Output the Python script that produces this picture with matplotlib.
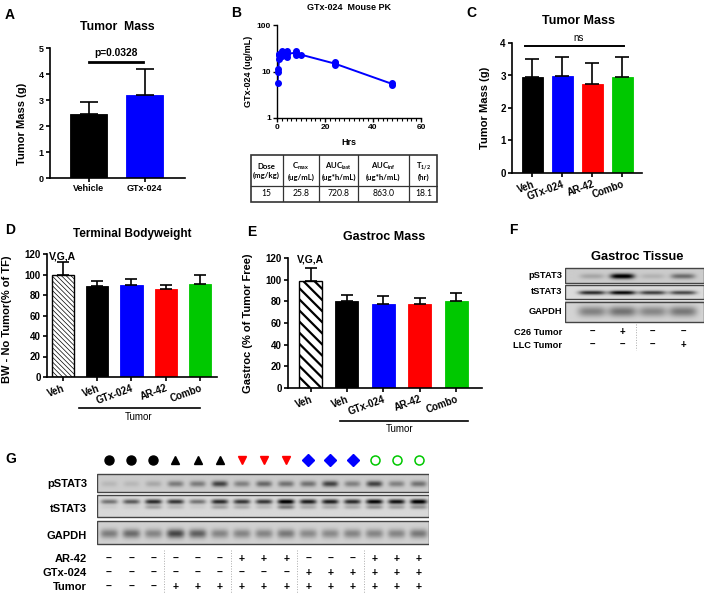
import numpy as np
import matplotlib
matplotlib.use("Agg")
import matplotlib.pyplot as plt
from matplotlib.patches import Rectangle
from matplotlib.ticker import MultipleLocator, NullLocator, FixedLocator

plt.rcParams["font.family"] = ["Liberation Sans", "DejaVu Sans"]
plt.rcParams["font.weight"] = "bold"
plt.rcParams["axes.labelweight"] = "bold"
plt.rcParams["mathtext.default"] = "regular"

# ---------------- data ----------------
GREEN = "#00c800"
BLUE = "#0000ff"
RED = "#ff0000"

a_labels = ["Vehicle", "GTx-024"]
a_means = [2.45, 3.2]
a_sd = [0.47, 0.98]
a_colors = ["black", BLUE]

pk_times = [0.25, 0.5, 1, 2, 4, 8, 10, 24, 48]
pk_values = [[5.6], [11.5, 9.8], [19, 23, 24], [22, 26, 28], [21, 24, 27],
             [23, 25, 28], [23], [13.5, 15, 16], [5.2, 5.6]]

table_head = ["Dose\n(mg/kg)", "C$_{max}$\n(ug/mL)", "AUC$_{last}$\n(ug*h/mL)",
              "AUC$_{inf}$\n(ug*h/mL)", "T$_{1/2}$\n(hr)"]
table_vals = ["15", "25.8", "720.8", "863.0", "18.1"]

c_labels = ["Veh", "GTx-024", "AR-42", "Combo"]
c_means = [2.95, 2.97, 2.75, 2.95]
c_sd = [0.57, 0.6, 0.63, 0.63]
c_colors = ["black", BLUE, RED, GREEN]

d_labels = ["Veh", "Veh", "GTx-024", "AR-42", "Combo"]
d_means = [100, 89, 90, 86, 91]
d_sd = [12, 5, 6, 4, 9]

e_labels = ["Veh", "Veh", "GTx-024", "AR-42", "Combo"]
e_means = [99, 80, 78, 78, 80]
e_sd = [12, 5.5, 7, 5.5, 7.5]
de_colors = ["white", "black", BLUE, RED, GREEN]

f_pstat3 = [0.15, 0.85, 0.1, 0.38]
f_tstat3 = [0.7, 0.85, 0.62, 0.58]
f_gapdh = [0.32, 0.38, 0.3, 0.36]
f_c26 = ["–", "+", "–", "–"]
f_llc = ["–", "–", "–", "+"]

g_pstat3 = [0.08, 0.08, 0.14, 0.32, 0.32, 0.55, 0.3, 0.4, 0.36,
            0.36, 0.55, 0.3, 0.55, 0.3, 0.36]
g_tstat3 = [0.4, 0.5, 0.7, 0.65, 0.4, 0.7, 0.65, 0.65, 0.9,
            0.75, 0.75, 0.7, 0.85, 0.8, 0.9]
g_tstat3_low = [0.05, 0.05, 0.22, 0.12, 0.05, 0.22, 0.18, 0.12, 0.38,
                0.18, 0.18, 0.18, 0.28, 0.22, 0.28]
g_gapdh = [0.33, 0.4, 0.3, 0.55, 0.45, 0.3, 0.3, 0.3, 0.35,
           0.28, 0.28, 0.3, 0.3, 0.3, 0.35]
g_markers = ["o", "^", "v", "D", "o"]
g_mcolors = ["black", "black", RED, BLUE, GREEN]
g_filled = [True, True, True, True, False]
g_ar42 = ["–"] * 6 + ["+"] * 3 + ["–"] * 3 + ["+"] * 3
g_gtx = ["–"] * 9 + ["+"] * 6
g_tumor = ["–"] * 3 + ["+"] * 12

W, H = 709, 598


def px_box(x0, y0, x1, y1):
    return [x0 / W, 1 - y1 / H, (x1 - x0) / W, (y1 - y0) / H]


def ftext(fig, x, y, s, **kw):
    kw.setdefault("ha", "center")
    kw.setdefault("va", "center")
    fig.text(x / W, 1 - y / H, s, **kw)


def fline(fig, x0, x1, y, lw=1.2):
    fig.add_artist(plt.Line2D([x0 / W, x1 / W], [1 - y / H, 1 - y / H], lw=lw, color="black"))


def style_axes(ax, lw=1.2, fs=6.5):
    for s in ["top", "right"]:
        ax.spines[s].set_visible(False)
    for s in ["left", "bottom"]:
        ax.spines[s].set_linewidth(lw)
    ax.tick_params(width=lw, length=3, direction="out", pad=1.5, labelsize=fs)


def bar_chart(ax, means, sd, colors, width, capsize, hatch=None, hatch_lw=1.0):
    x = np.arange(len(means))
    bars = ax.bar(x, means, width, color=colors, edgecolor=colors, linewidth=0.6, zorder=2)
    if hatch is not None:
        b = bars[0]
        b.set_hatch(hatch)
        b.set_edgecolor("black")
        b.set_linewidth(1.0)
        if hasattr(b, "set_hatch_linewidth"):
            b.set_hatch_linewidth(hatch_lw)
    ax.errorbar(x, means, yerr=[np.zeros(len(means)), sd], fmt="none", ecolor="black",
                elinewidth=1.2, capsize=capsize, capthick=1.2, zorder=3)
    return x


def blot(ax, x_lo, x_hi, y_top, y_bot, bands, lane_w, bg):
    nx, ny = 400, 40
    xs = np.linspace(x_lo, x_hi, nx)
    ys = np.linspace(0, 1, ny)
    img = np.full((ny, nx), bg)
    for inten, yc, sig in bands:
        for i, a in enumerate(inten):
            gx = np.exp(-((xs - i) / lane_w) ** 4)
            gy = np.exp(-((ys - yc) / sig) ** 2)
            img -= a * np.outer(gy, gx)
    ax.imshow(np.clip(img, 0, 1), cmap="gray", vmin=0, vmax=1, aspect="auto",
              extent=(x_lo, x_hi, y_bot, y_top), interpolation="bilinear", zorder=1)
    ax.add_patch(Rectangle((x_lo, y_top), x_hi - x_lo, y_bot - y_top, fill=False,
                           edgecolor="#444444", lw=1.0, zorder=2))


fig = plt.figure(figsize=(7.09, 5.98), dpi=100)

# panel letters
for letter, (lx, ly) in zip("ABCDEFG", [(5, 15), (231, 13), (466, 13), (5, 230),
                                          (247, 232), (509, 230), (5, 459)]):
    ftext(fig, lx, ly, letter, ha="left", fontsize=10)

# ---------------- A ----------------
ax = fig.add_axes(px_box(50, 48, 185, 178))
style_axes(ax)
x = bar_chart(ax, a_means, a_sd, a_colors, 0.66, 6.5)
ax.set_xlim(-0.69, 1.72)
ax.set_ylim(0, 5)
ax.set_xticks(x)
ax.set_xticklabels(a_labels)
ax.set_yticks(range(6))
ax.set_ylabel("Tumor Mass (g)", fontsize=8)
ax.yaxis.set_label_coords(-0.17, 0.42)
ax.plot([0, 0.97], [4.46, 4.46], color="black", lw=2, clip_on=False)
ax.text(0.49, 4.62, "p=0.0328", ha="center", va="bottom", fontsize=7.4)
ftext(fig, 117, 27, "Tumor  Mass", fontsize=8.8)

# ---------------- B ----------------
ax = fig.add_axes(px_box(277, 25, 421, 118))
style_axes(ax, lw=1.0, fs=6)
ax.set_yscale("log")
for t, vals in zip(pk_times, pk_values):
    ax.plot([t] * len(vals), vals, "o", color=BLUE, ms=4, clip_on=False, zorder=3)
ax.plot(pk_times, [np.mean(v) for v in pk_values], color=BLUE, lw=1.4, zorder=2)
ax.set_xlim(0, 60)
ax.set_ylim(1, 100)
ax.set_xticks([0, 20, 40, 60])
ax.xaxis.set_minor_locator(MultipleLocator(2))
ax.tick_params(which="minor", length=2, width=0.8)
ax.yaxis.set_major_locator(FixedLocator([1, 10, 100]))
ax.yaxis.set_minor_locator(NullLocator())
ax.set_yticklabels(["1", "10", "100"])
ax.set_ylabel("GTx-024 (ug/mL)", fontsize=6.5)
ax.yaxis.set_label_coords(-0.17, 0.5)
ftext(fig, 349, 142, "Hrs", fontsize=6.5)
ftext(fig, 349, 8, "GTx-024  Mouse PK", fontsize=6.5)

# table
tx = [250, 283, 319, 358, 409, 438]
ax = fig.add_axes(px_box(250, 155, 438, 202))
ax.set_xlim(250, 438)
ax.set_ylim(202, 155)
ax.axis("off")
ax.add_patch(Rectangle((250.5, 155.5), 187, 46, fill=False, edgecolor="#333333", lw=1.2, clip_on=False))
for xv in tx[1:-1]:
    ax.plot([xv, xv], [155.5, 201.5], color="#333333", lw=0.9)
ax.plot([250.5, 437.5], [186, 186], color="#333333", lw=0.9)
for i in range(5):
    cx = (tx[i] + tx[i + 1]) / 2
    ax.text(cx, 171, table_head[i], ha="center", va="center", fontsize=5.6,
            family=["Lato", "DejaVu Sans"], weight="bold", linespacing=1.2)
    ax.text(cx, 194, table_vals[i], ha="center", va="center", fontsize=6.2,
            family=["Lato", "DejaVu Sans"], weight="normal")

# ---------------- C ----------------
ax = fig.add_axes(px_box(512, 43, 642, 173))
style_axes(ax, fs=7)
x = bar_chart(ax, c_means, c_sd, c_colors, 0.67, 5)
ax.set_xlim(-0.683, 3.65)
ax.set_ylim(0, 4)
ax.set_xticks(x)
ax.set_xticklabels(c_labels, rotation=20, ha="right", rotation_mode="anchor")
ax.set_yticks(range(5))
ax.set_ylabel("Tumor Mass (g)", fontsize=8)
ax.yaxis.set_label_coords(-0.17, 0.5)
ax.plot([-0.25, 3.05], [3.9, 3.9], color="black", lw=1.4, clip_on=False)
ax.text(1.52, 4.0, "ns", ha="center", va="bottom", fontsize=7, weight="normal")
ftext(fig, 578, 21, "Tumor Mass", fontsize=9)

# ---------------- D ----------------
ax = fig.add_axes(px_box(47, 254, 217, 377))
style_axes(ax, fs=7)
x = bar_chart(ax, d_means, d_sd, de_colors, 0.65, 4.5, hatch="\\\\\\\\\\\\\\", hatch_lw=0.5)
ax.set_xlim(-0.467, 4.5)
ax.set_ylim(0, 120)
ax.set_xticks(x)
ax.set_xticklabels(d_labels, rotation=20, ha="right", rotation_mode="anchor")
ax.set_yticks(range(0, 121, 20))
ax.set_ylabel("BW - No Tumor(% of TF)", fontsize=8)
ax.yaxis.set_label_coords(-0.205, 0.47)
ax.text(0, 112.5, "V,G,A", ha="center", va="bottom", fontsize=7.5)
fline(fig, 79, 200, 408)
ftext(fig, 139, 417, "Tumor", fontsize=7, weight="normal")
ftext(fig, 132, 234, "Terminal Bodyweight", fontsize=8.5)

# ---------------- E ----------------
ax = fig.add_axes(px_box(288, 258, 482, 388))
style_axes(ax, fs=7)
x = bar_chart(ax, e_means, e_sd, de_colors, 0.63, 4.5, hatch="\\\\\\", hatch_lw=1.6)
ax.set_xlim(-0.62, 4.71)
ax.set_ylim(0, 120)
ax.set_xticks(x)
ax.set_xticklabels(e_labels, rotation=20, ha="right", rotation_mode="anchor")
ax.set_yticks(range(0, 121, 20))
ax.set_ylabel("Gastroc (% of Tumor Free)", fontsize=8)
ax.yaxis.set_label_coords(-0.18, 0.5)
ax.text(0, 114, "V,G,A", ha="center", va="bottom", fontsize=7.5)
fline(fig, 340, 468, 421)
ftext(fig, 400, 429, "Tumor", fontsize=7, weight="normal")
ftext(fig, 384, 237, "Gastroc Mass", fontsize=9)

# ---------------- F ----------------
ax = fig.add_axes(px_box(565, 262, 704, 352))
ax.axis("off")
xl, xr = -0.89, 3.69
blot(ax, xl, xr, 268, 283, [(f_pstat3, 0.55, 0.18)], 0.4, 0.80)
blot(ax, xl, xr, 285, 299, [(f_tstat3, 0.55, 0.15)], 0.44, 0.86)
blot(ax, xl, xr, 302, 322, [(f_gapdh, 0.5, 0.25)], 0.46, 0.83)
ax.set_xlim(xl, xr)
ax.set_ylim(352, 262)
for lab, yy in [("pSTAT3", 276), ("tSTAT3", 292), ("GAPDH", 312),
                ("C26 Tumor", 332), ("LLC Tumor", 345)]:
    ax.text(-0.99, yy, lab, ha="right", va="center", fontsize=6.7)
for i in range(4):
    ax.text(i, 332, f_c26[i], ha="center", va="center", fontsize=7)
    ax.text(i, 345, f_llc[i], ha="center", va="center", fontsize=7)
ax.plot([1.45, 1.45], [324, 350], color="#aaaaaa", lw=0.7, ls=":")
ftext(fig, 637, 257, "Gastroc Tissue", fontsize=9.3)

# ---------------- G ----------------
ax = fig.add_axes(px_box(97, 445, 429, 596))
ax.axis("off")
xl, xr = -0.54, 14.45
blot(ax, xl, xr, 474, 492, [(g_pstat3, 0.55, 0.17)], 0.36, 0.80)
blot(ax, xl, xr, 495, 517, [(g_tstat3, 0.3, 0.11), (g_tstat3_low, 0.55, 0.1)], 0.38, 0.85)
blot(ax, xl, xr, 521, 544, [(g_gapdh, 0.55, 0.2)], 0.4, 0.82)
ax.set_xlim(xl, xr)
ax.set_ylim(596, 445)
for k in range(5):
    lanes = [3 * k, 3 * k + 1, 3 * k + 2]
    mk = g_markers[k]
    ms = 6.5 if mk == "o" else (5.8 if mk == "D" else 6.3)
    if g_filled[k]:
        ax.plot(lanes, [460] * 3, mk, color=g_mcolors[k], ms=ms, ls="none", clip_on=False)
    else:
        ax.plot(lanes, [460] * 3, mk, mfc="none", mec=g_mcolors[k], mew=1.1, ms=ms,
                ls="none", clip_on=False)
for lab, yy in [("pSTAT3", 484), ("tSTAT3", 509), ("GAPDH", 536),
                ("AR-42", 559), ("GTx-024", 573), ("Tumor", 587)]:
    ax.text(-0.99, yy, lab, ha="right", va="center", fontsize=8)
for i in range(15):
    ax.text(i, 559, g_ar42[i], ha="center", va="center", fontsize=7.5)
    ax.text(i, 573, g_gtx[i], ha="center", va="center", fontsize=7.5)
    ax.text(i, 587, g_tumor[i], ha="center", va="center", fontsize=7.5)
for sx in [2.5, 5.5, 8.5, 11.5]:
    ax.plot([sx, sx], [550, 593], color="#aaaaaa", lw=0.7, ls=":")

fig.savefig("out.png", dpi=100)
